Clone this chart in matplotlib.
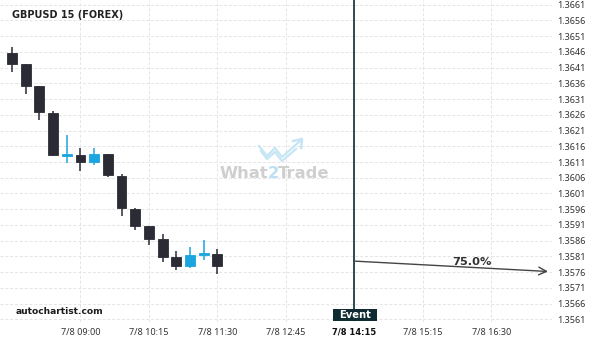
import matplotlib
matplotlib.use('Agg')
import matplotlib.pyplot as plt
from matplotlib.patches import Rectangle
import numpy as np

plt.rcParams['font.family'] = ['Noto Sans', 'DejaVu Sans']
BOLD = ['DejaVu Sans']

# 15-minute candles, GBPUSD
opens = [1.36457, 1.36420, 1.36350, 1.36267, 1.36130, 1.36131, 1.36109, 1.36134,
         1.36067, 1.35962, 1.35905, 1.35864, 1.35807, 1.35781, 1.35815, 1.35819]
closes = [1.36420, 1.36351, 1.36268, 1.36131, 1.36135, 1.36109, 1.36134, 1.36068,
          1.35963, 1.35906, 1.35864, 1.35807, 1.35781, 1.35813, 1.35820, 1.35779]
highs = [1.36474, 1.36421, 1.36353, 1.36271, 1.36196, 1.36153, 1.36153, 1.36136,
         1.36071, 1.35965, 1.35906, 1.35880, 1.35826, 1.35841, 1.35863, 1.35834]
lows = [1.36396, 1.36326, 1.36244, 1.36128, 1.36107, 1.36082, 1.36101, 1.36062,
        1.35937, 1.35893, 1.35846, 1.35792, 1.35766, 1.35773, 1.35798, 1.35755]

tick_pos = [5, 10, 15, 20, 25, 30, 35]
tick_labels = ['7/8 09:00', '7/8 10:15', '7/8 11:30', '7/8 12:45',
               '7/8 14:15', '7/8 15:15', '7/8 16:30']
price_ticks = [1.3561 + 0.0005 * k for k in range(21)]

event_idx = 25
forecast_start = 1.35795
forecast_end = 1.35762
forecast_end_idx = 39.15
forecast_prob = '75.0%'

dark = '#2b2b35'
blue = '#1aa5df'
event_col = '#0e2c32'

fig = plt.figure(figsize=(6, 3.4), dpi=100)
ax = fig.add_axes([0, 18 / 340, 552 / 600, 322 / 340])


def fpx(x, y):
    # pixel position (from top-left) -> figure fraction
    return x / 600, 1 - y / 340


ylo = 1.3661 - (322 - 4.7) / 31460
yhi = 1.3661 + 4.7 / 31460
ax.set_ylim(ylo, yhi)
ax.set_xlim(-12 / 13.69, 540 / 13.69)

x = np.arange(len(opens))
for i in x:
    o, c, h, l = opens[i], closes[i], highs[i], lows[i]
    col = blue if c > o else dark
    ax.vlines(i, l, h, color=col, lw=1.1, zorder=3)
    ax.add_patch(Rectangle((i - 0.36, min(o, c)), 0.72, abs(c - o),
                           facecolor=col, edgecolor=col, lw=0.6, zorder=4))

# grid
ax.set_xticks(tick_pos)
ax.set_xticklabels(tick_labels)
ax.set_yticks(price_ticks)
ax.set_yticklabels(['%.4f' % p for p in price_ticks])
ax.yaxis.tick_right()
ax.tick_params(axis='both', length=0, labelsize=6.5, labelcolor='#333333')
ax.tick_params(axis='y', pad=4)
ax.tick_params(axis='x', pad=4)
for lab in ax.get_xticklabels():
    if lab.get_text() == '7/8 14:15':
        lab.set_fontweight('bold')
        lab.set_family(BOLD)
        lab.set_fontsize(6)
        lab.set_color('#111111')
ax.grid(True, color='#e4e4e4', lw=0.7, ls=(0, (3, 2)))
ax.set_axisbelow(True)
for s in ax.spines.values():
    s.set_visible(False)

# event line and label
box_top = 1.3661 - (309 - 4.7) / 31460
ax.plot([event_idx, event_idx], [box_top, yhi], color=event_col, lw=1.2, zorder=5)
bx, by = fpx(332.7, 320.7)
fig.add_artist(Rectangle((bx, by), 44.6 / 600, 11.7 / 340, facecolor=event_col,
                         edgecolor='none', transform=fig.transFigure, zorder=10))
fig.text(*fpx(355, 314.6), 'Event', color='white', fontsize=7.2, fontweight='bold',
         family=BOLD, ha='center', va='center', zorder=11)

# forecast arrow
ax.annotate('', xy=(forecast_end_idx, forecast_end), xytext=(event_idx, forecast_start),
            arrowprops=dict(arrowstyle='->', color='#444444', lw=1.0,
                            mutation_scale=14, shrinkA=0, shrinkB=0), zorder=5)
ax.text(33.58, 1.35791, forecast_prob, fontsize=8.2, fontweight='bold', family=BOLD,
        color='#333333', ha='center', va='center')

# titles
fig.text(*fpx(12, 15), 'GBPUSD 15 (FOREX)', fontsize=7, fontweight='bold',
         family=BOLD, color='#222222', va='center', ha='left')
fig.text(*fpx(16, 311), 'autochartist.com', fontsize=6.6, fontweight='bold',
         family=BOLD, color='#1a1a1a', va='center', ha='left')

# watermark
wm_kw = dict(fontsize=11.8, fontweight='bold', family=BOLD, va='center')
fig.text(*fpx(268.3, 173), 'What', color='#cfcfcf', ha='right', **wm_kw)
fig.text(*fpx(273.3, 173), '2', color='#bde0f2', ha='center', **wm_kw)
fig.text(*fpx(278.3, 173), 'Trade', color='#cfcfcf', ha='left', **wm_kw)
logo = [(259, 146), (267, 156), (275, 148), (282, 157), (300, 141)]
logo2 = [(261, 151), (267, 159), (275, 152), (282, 161), (296, 149)]
for pts in (logo, logo2):
    xs, ys = zip(*[fpx(a, b) for a, b in pts])
    fig.add_artist(plt.Line2D(xs, ys, color='#c6e5f5', lw=1.6,
                              transform=fig.transFigure))
hx, hy = zip(*[fpx(a, b) for a, b in [(293, 141), (302, 139), (301, 148)]])
fig.add_artist(plt.Line2D(hx, hy, color='#c6e5f5', lw=1.8, transform=fig.transFigure))

plt.savefig('out.png', dpi=100)
